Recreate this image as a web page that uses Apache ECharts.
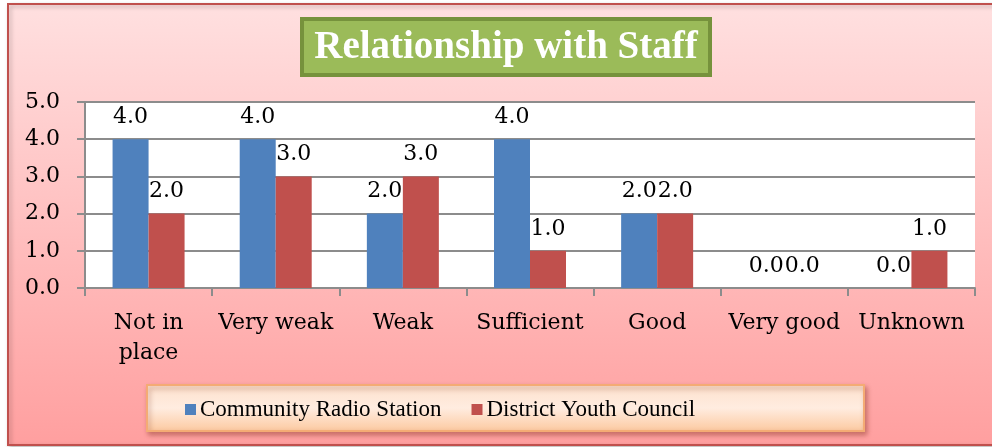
<!DOCTYPE html>
<html>
<head>
<meta charset="utf-8">
<script src="https://cdn.jsdelivr.net/npm/echarts@6/dist/echarts.min.js"></script>
<style>
    html, body {margin: 0; padding: 0; background: #fff;}
    #chart {width: 992px; height: 447px;}
</style>
</head>
<body>
<div id="chart"></div>
<script>
// 数据
var categories = ['Not in\nplace', 'Very weak', 'Weak', 'Sufficient', 'Good', 'Very good', 'Unknown'];
var radioStation = [4, 4, 2, 4, 2, 0, 0];
var youthCouncil = [2, 3, 3, 1, 2, 0, 1];
var seriesNames = ['Community Radio Station', 'District Youth Council'];
var yTicks = {min: 0, max: 5, interval: 1};

var myChart = echarts.init(document.getElementById('chart'));

var labelStyle = {
    show: true,
    position: 'top',
    distance: 11,
    fontFamily: 'DejaVu Serif',
    fontSize: 22,
    color: '#000',
    formatter: function (p) {
        return p.value.toFixed(1);
    }
};

myChart.setOption({
    animation: false,
    graphic: [
        {
            type: 'rect', z: -10,
            shape: {x: 8, y: 4, width: 1000, height: 441},
            style: {
                fill: new echarts.graphic.LinearGradient(0, 0, 0, 1, [
                    {offset: 0, color: '#ffe0e0'},
                    {offset: 1, color: '#ff9f9f'}
                ]),
                stroke: '#c0504d', lineWidth: 2,
                shadowBlur: 4, shadowColor: 'rgba(0,0,0,0.25)', shadowOffsetX: 2, shadowOffsetY: 2
            }
        },
        {
            type: 'rect', z: 1,
            shape: {x: 302, y: 19, width: 408, height: 56},
            style: {fill: '#9bbb59', stroke: '#76923c', lineWidth: 4}
        },
        {
            type: 'text', z: 2,
            x: 506, y: 48,
            style: {
                text: 'Relationship with Staff',
                font: 'bold 39px "Liberation Serif"',
                fill: '#fff',
                align: 'center',
                verticalAlign: 'middle'
            }
        },
        {
            type: 'rect', z: 1,
            shape: {x: 147, y: 385, width: 717, height: 46},
            style: {
                fill: new echarts.graphic.LinearGradient(0, 0, 0, 1, [
                    {offset: 0, color: '#fde0cc'},
                    {offset: 0.5, color: '#ffece0'},
                    {offset: 1, color: '#fcc89e'}
                ]),
                stroke: '#f4ab74', lineWidth: 2,
                shadowBlur: 5, shadowColor: 'rgba(120,40,20,0.4)', shadowOffsetX: 2, shadowOffsetY: 3
            }
        }
    ],
    grid: {
        left: 85, right: 17, top: 102, bottom: 159,
        show: true, backgroundColor: '#fff', borderWidth: 0
    },
    legend: {
        data: seriesNames,
        left: 180, top: 393,
        icon: 'rect',
        itemWidth: 11, itemHeight: 11,
        itemGap: 30,
        itemStyle: {borderWidth: 0},
        textStyle: {fontFamily: 'Liberation Serif', fontSize: 23, color: '#000', padding: [0, 0, 0, -1]},
        z: 5
    },
    xAxis: {
        type: 'category',
        data: categories,
        axisLine: {lineStyle: {color: '#8c8c8c', width: 2}},
        axisTick: {show: true, length: 8, lineStyle: {color: '#8c8c8c', width: 2}},
        axisLabel: {
            interval: 0, margin: 20,
            fontFamily: 'DejaVu Serif', fontSize: 22, color: '#000', lineHeight: 30
        }
    },
    yAxis: {
        type: 'value',
        min: yTicks.min, max: yTicks.max, interval: yTicks.interval,
        axisLine: {show: true, lineStyle: {color: '#8c8c8c', width: 2}},
        axisTick: {show: true, length: 8, lineStyle: {color: '#8c8c8c', width: 2}},
        splitLine: {lineStyle: {color: '#8c8c8c', width: 2}},
        axisLabel: {
            margin: 25,
            fontFamily: 'DejaVu Serif', fontSize: 22, color: '#000',
            formatter: function (v) { return v.toFixed(1); }
        }
    },
    series: [
        {
            name: seriesNames[0], type: 'bar',
            data: radioStation, barWidth: 36, barGap: '0%',
            itemStyle: {color: '#4f81bd'},
            label: labelStyle
        },
        {
            name: seriesNames[1], type: 'bar',
            data: youthCouncil, barWidth: 36,
            itemStyle: {color: '#c0504d'},
            label: labelStyle
        }
    ]
});
</script>
</body>
</html>
